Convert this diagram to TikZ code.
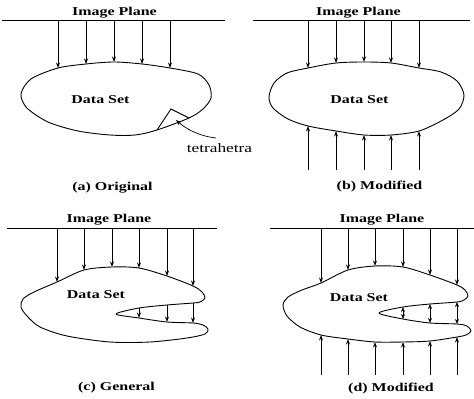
\documentclass[tikz,border=0pt]{standalone}
\usepackage{fontspec}
\setmainfont{Liberation Serif}[FakeStretch=1.33]
\usetikzlibrary{arrows.meta}
\tikzset{
  ray/.style={line width=0.8pt, -{Stealth[length=5.5pt,width=4pt]}},
  dray/.style={line width=0.8pt, {Stealth[length=5pt,width=4pt]}-{Stealth[length=5pt,width=4pt]}},
  blob/.style={line width=0.9pt, line join=round},
  plane/.style={line width=0.8pt},
  lbl/.style={font=\fontsize{12}{14}\selectfont\bfseries, anchor=base, inner sep=0pt},
  tlbl/.style={font=\fontsize{13}{15}\selectfont, anchor=base, inner sep=0pt},
}
\begin{document}
\begin{tikzpicture}[x=1pt,y=-1pt]
\useasboundingbox (0,0) rectangle (474,399);

% ---------------- (a) ----------------
\coordinate (aPL) at (2,20); \coordinate (aPR) at (225,20);
\draw[plane] (aPL) -- (aPR);
\foreach \x/\y [count=\i] in {58/68,86/64,114/62,142/64,170/68}{
  \coordinate (aP\i) at (\x,20); \coordinate (aS\i) at (\x,\y);
  \draw[ray] (aP\i) -- (aS\i);
}
\coordinate (aB1) at (189,118); \coordinate (aB2) at (157,130); \coordinate (aTop) at (171,109);
\draw[blob] plot[smooth cycle, tension=0.5] coordinates {(aS1) (aS2) (aS3) (aS4) (aS5) (198,74) (209,85) (211,98) (203,109) (aB1) (aB2) (135,135) (110,135) (78,131) (48,122) (27,108) (21,94) (31,79)};
\draw[blob] (aB2) -- (aTop) -- (aB1);
\coordinate (aL) at (216,138); \coordinate (aTip) at (176,120);
\draw[ray, line width=0.7pt] (aL) .. controls (198,136) and (185,128) .. (aTip);
\node[lbl] (aIP) at (114.5,15) {Image Plane};
\node[lbl] (aDS) at (100.5,103) {Data Set};
\node[tlbl] (tet) at (219.5,152) {tetrahetra};
\node[lbl] (aCap) at (112.5,190) {(a) Original};

% ---------------- (b) ----------------
\coordinate (bPL) at (253,20); \coordinate (bPR) at (470,20);
\draw[plane] (bPL) -- (bPR);
\foreach \x/\y [count=\i] in {308/68,336/63,364/62,391/63,419/68}{
  \coordinate (bP\i) at (\x,20); \coordinate (bS\i) at (\x,\y);
  \draw[ray] (bP\i) -- (bS\i);
}
\foreach \x/\y [count=\i] in {308/126,336/131,364/135,391/135,419/131}{
  \coordinate (bQ\i) at (\x,170); \coordinate (bB\i) at (\x,\y);
  \draw[ray] (bQ\i) -- (bB\i);
}
\draw[blob] plot[smooth cycle, tension=0.5] coordinates {(bS1) (bS2) (bS3) (bS4) (bS5) (441,72) (457,81) (464,95) (459,109) (443,120) (bB5) (bB4) (bB3) (bB2) (bB1) (288,119) (273,108) (269,97) (274,83) (287,73)};
\node[lbl] (bIP) at (358.5,15) {Image Plane};
\node[lbl] (bDS) at (359.5,103) {Data Set};
\node[lbl] (bCap) at (379.5,189) {(b) Modified};

% ---------------- (c) ----------------
\coordinate (cPL) at (7,228); \coordinate (cPR) at (217,228);
\draw[plane] (cPL) -- (cPR);
\foreach \x/\y [count=\i] in {57/282,84/270,112/267,139/268,167/276,193/286}{
  \coordinate (cP\i) at (\x,228); \coordinate (cS\i) at (\x,\y);
  \draw[ray] (cP\i) -- (cS\i);
}
\foreach \x/\u/\l [count=\i] in {139/308/318,167/305/322,193/303/323}{
  \coordinate (cU\i) at (\x,\u); \coordinate (cL\i) at (\x,\l);
  \draw[ray] (cU\i) -- (cL\i);
}
\draw[blob] plot[smooth cycle, tension=0.5] coordinates {(cS1) (cS2) (cS3) (cS4) (cS5) (cS6) (202,292) (205,298) (200,302) (cU3) (cU2) (cU1) (116,314) (cL1) (cL2) (cL3) (203,325) (208,329) (205,334) (187,338) (150,342) (110,342) (67,336) (40,327) (27,316) (21,307) (23,299) (34,292)};
\node[lbl] (cIP) at (109,222.5) {Image Plane};
\node[lbl] (cDS) at (96,298) {Data Set};
\node[lbl] (cCap) at (116.5,390) {(c) General};

% ---------------- (d) ----------------
\coordinate (dPL) at (270,228); \coordinate (dPR) at (474,228);
\draw[plane] (dPL) -- (dPR);
\foreach \x/\y [count=\i] in {321/283,348/270,375/266,403/267,430/275,457/285}{
  \coordinate (dP\i) at (\x,228); \coordinate (dS\i) at (\x,\y);
  \draw[ray] (dP\i) -- (dS\i);
}
\foreach \x/\u/\l [count=\i] in {403/307/319,430/304/323,457/302/324}{
  \coordinate (dU\i) at (\x,\u); \coordinate (dL\i) at (\x,\l);
  \draw[dray] (dU\i) -- (dL\i);
}
\foreach \x/\y [count=\i] in {321/335,348/339,375/342,403/342,430/341,457/337}{
  \coordinate (dQ\i) at (\x,375); \coordinate (dB\i) at (\x,\y);
  \draw[ray] (dQ\i) -- (dB\i);
}
\draw[blob] plot[smooth cycle, tension=0.5] coordinates {(dS1) (dS2) (dS3) (dS4) (dS5) (dS6) (465,290) (468,296) (464,300) (dU3) (dU2) (dU1) (379,313) (dL1) (dL2) (dL3) (467,326) (471,331) (466,335) (dB6) (dB5) (dB4) (dB3) (dB2) (dB1) (300,327) (287,316) (283,305) (288,297) (302,290)};
\node[lbl] (dIP) at (382,222.5) {Image Plane};
\node[lbl] (dDS) at (359,301) {Data Set};
\node[lbl] (dCap) at (391,391) {(d) Modified};
\end{tikzpicture}
\end{document}
